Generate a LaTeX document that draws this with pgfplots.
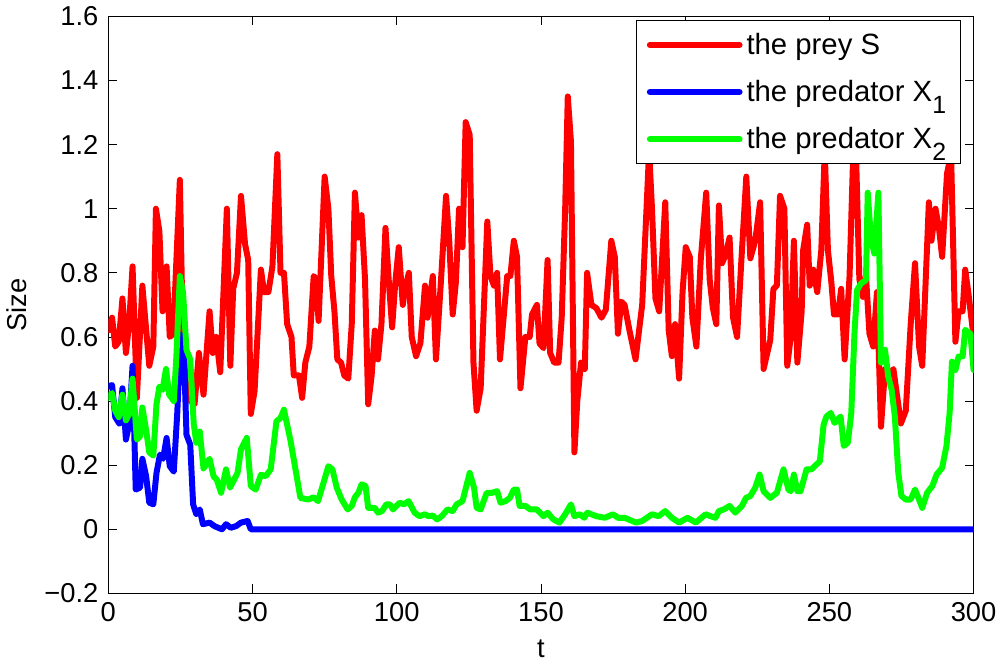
\documentclass[border=0pt]{standalone}
\usepackage{pgfplots}
\pgfplotsset{compat=1.18}
\usepackage{fontspec}
\setmainfont{Liberation Sans}
\pgfplotstableread{
t v
0 0.62
1.3 0.66
2.4 0.57
3.6 0.585
4.9 0.72
6.1 0.55
7.2 0.64
8.4 0.82
9.9 0.41
11.8 0.76
14.2 0.51
15.6 0.57
16.5 1.0
17.7 0.93
18.8 0.68
20.2 0.82
21.3 0.60
22.5 0.61
24.8 1.09
25.9 0.57
27.3 0.41
29.9 0.39
31.4 0.55
33.0 0.42
35.1 0.68
36.2 0.55
37.4 0.60
38.8 0.49
41.1 1.0
42.3 0.51
43.3 0.75
44.6 0.80
46.0 1.04
47.4 0.89
48.5 0.84
49.4 0.36
50.7 0.43
52.9 0.81
54.0 0.74
55.5 0.74
56.9 0.82
58.6 1.17
59.7 0.80
60.9 0.80
62.0 0.64
63.5 0.60
64.3 0.48
66.1 0.48
67.2 0.41
68.3 0.52
69.7 0.57
71.2 0.79
72.0 0.78
72.9 0.65
75.0 1.10
76.3 1.0
77.3 0.79
78.4 0.68
79.4 0.53
80.7 0.52
81.8 0.48
83.2 0.47
84.4 0.64
85.5 1.05
86.7 0.91
87.8 0.98
89.0 0.78
90.1 0.39
91.3 0.48
92.4 0.62
93.5 0.53
94.7 0.64
96.1 0.94
97.2 0.78
98.4 0.63
99.5 0.77
100.7 0.88
102.1 0.70
102.9 0.75
104.2 0.80
105.2 0.60
106.7 0.54
108.2 0.58
109.8 0.76
110.7 0.66
112.5 0.79
113.6 0.53
115.3 0.77
117.1 1.04
118.2 0.90
119.4 0.67
120.5 0.77
121.6 1.0
122.8 0.88
123.9 1.27
125.3 1.23
126.6 0.52
127.7 0.37
129.1 0.44
131.4 0.96
132.5 0.79
133.7 0.76
134.8 0.80
135.8 0.53
138.3 0.79
139.4 0.79
140.6 0.90
141.7 0.85
142.9 0.44
144.6 0.60
146.1 0.60
146.9 0.67
148.6 0.70
149.5 0.58
150.9 0.565
152.3 0.84
153.2 0.55
154.6 0.52
156.1 0.52
157.2 0.66
158.4 1.0
159.3 1.35
160.4 1.21
161.6 0.24
162.6 0.40
163.9 0.52
165.2 0.50
166.0 0.80
167.5 0.70
169.2 0.69
171.0 0.66
172.5 0.685
174.4 0.90
175.6 0.85
176.7 0.61
177.9 0.71
179.0 0.70
180.7 0.62
182.8 0.53
185.1 0.70
187.5 1.18
188.5 1.0
189.7 0.72
191.0 0.68
193.1 1.02
194.3 0.62
195.4 0.54
196.5 0.64
197.9 0.47
199.1 0.74
200.2 0.88
201.6 0.85
202.5 0.66
203.9 0.57
205.4 0.84
207.3 1.05
208.5 0.78
209.6 0.69
210.8 0.64
211.7 1.01
212.8 0.83
214.0 0.855
215.4 0.91
216.6 0.66
218.0 0.60
219.5 0.84
221.2 1.10
222.6 0.845
224.3 0.90
226.0 1.02
227.2 0.50
229.5 0.59
230.6 0.75
231.8 0.76
232.9 1.04
234.4 1.0
235.4 0.51
236.6 0.60
237.7 0.90
238.9 0.52
240.4 0.68
240.9 0.87
242.3 0.95
243.2 0.76
244.4 0.81
245.8 0.74
247.2 0.87
248.4 1.18
249.5 0.87
250.7 0.77
251.6 0.67
253.0 0.67
254.1 0.75
255.3 0.53
257.0 0.79
258.3 1.18
259.3 1.15
260.4 0.78
261.6 0.725
262.7 0.79
263.9 0.61
265.2 0.57
266.5 0.74
267.9 0.32
269.3 0.50
270.8 0.48
272.2 0.50
274.8 0.33
276.5 0.37
278.2 0.64
279.7 0.83
281.1 0.57
282.2 0.51
284.5 1.02
285.4 0.90
286.8 1.0
288.0 0.94
289.1 0.85
290.8 1.11
292.2 1.17
293.7 0.585
294.8 0.68
296.2 0.68
297.1 0.81
298.3 0.73
300 0.60
}\preyS
\pgfplotstableread{
t v
0 0.446
1.3 0.45
2.4 0.35
3.8 0.33
4.9 0.44
6.1 0.28
7.2 0.326
8.4 0.51
9.5 0.124
11.0 0.13
11.8 0.22
13.1 0.166
14.2 0.083
15.6 0.078
16.7 0.176
17.9 0.233
19.0 0.22
20.2 0.285
21.3 0.197
22.7 0.18
23.9 0.363
25.1 0.606
26.3 0.528
27.1 0.295
28.4 0.264
29.4 0.078
30.5 0.047
31.7 0.062
32.8 0.016
35.1 0.021
36.8 0.01
39.4 0.0
40.8 0.016
42.5 0.005
44.3 0.01
46.0 0.021
48.3 0.026
49.4 0.0
300 0.0
}\predA
\pgfplotstableread{
t v
0 0.41
1.3 0.425
2.4 0.37
3.6 0.35
4.9 0.42
6.1 0.34
7.2 0.36
8.4 0.47
9.9 0.28
11.0 0.29
11.8 0.38
13.1 0.31
14.2 0.24
15.6 0.23
16.7 0.39
17.7 0.445
18.8 0.435
20.0 0.50
21.1 0.42
22.7 0.40
23.6 0.54
24.8 0.79
25.9 0.74
27.1 0.56
28.4 0.53
29.6 0.33
30.5 0.27
31.7 0.305
33.0 0.19
35.1 0.22
36.5 0.165
37.6 0.155
39.1 0.114
40.8 0.187
42.2 0.13
44.8 0.176
46.0 0.25
48.0 0.285
49.4 0.135
51.1 0.124
52.9 0.17
54.6 0.166
56.3 0.187
58.3 0.337
59.7 0.347
60.9 0.373
63.2 0.275
64.9 0.187
66.6 0.098
69.3 0.093
71.2 0.10
72.7 0.088
74.6 0.145
76.3 0.197
77.7 0.187
79.2 0.13
80.9 0.093
83.0 0.062
84.4 0.073
85.5 0.10
86.7 0.114
87.8 0.14
89.2 0.135
90.1 0.067
92.4 0.067
93.5 0.052
94.9 0.057
96.4 0.078
97.6 0.078
98.7 0.062
101.0 0.083
102.5 0.078
104.1 0.088
106.2 0.052
107.9 0.041
109.8 0.047
111.0 0.041
112.5 0.043
114.0 0.031
115.6 0.041
117.6 0.062
119.4 0.057
120.8 0.078
122.8 0.088
125.3 0.176
126.8 0.13
127.7 0.067
129.1 0.062
131.2 0.114
133.1 0.114
134.8 0.119
136.0 0.083
137.7 0.088
139.2 0.098
140.6 0.124
141.7 0.124
142.6 0.073
144.6 0.073
146.3 0.062
148.6 0.062
150.9 0.041
152.3 0.052
154.3 0.031
156.4 0.021
158.4 0.047
160.4 0.078
161.6 0.041
163.5 0.047
165.0 0.036
166.1 0.052
169.2 0.041
172.1 0.036
175.0 0.047
176.7 0.036
179.0 0.036
183.0 0.021
185.1 0.026
188.5 0.047
190.8 0.041
193.1 0.057
195.4 0.036
197.9 0.021
200.8 0.036
203.7 0.021
207.1 0.047
208.8 0.041
210.5 0.036
211.7 0.057
213.4 0.062
215.4 0.073
217.4 0.052
219.7 0.073
221.1 0.098
222.6 0.104
224.3 0.13
225.8 0.171
227.2 0.119
229.5 0.098
231.8 0.114
234.1 0.187
235.8 0.124
236.6 0.119
237.7 0.171
238.9 0.119
240.0 0.119
242.1 0.187
243.8 0.187
244.9 0.197
246.7 0.212
248.0 0.326
249.0 0.352
250.5 0.363
251.8 0.332
253.9 0.352
255.0 0.26
256.4 0.27
257.6 0.363
258.7 0.61
259.6 0.746
261.0 0.767
262.7 0.777
263.3 1.05
264.4 0.91
265.6 0.86
267.0 1.05
267.9 0.52
269.3 0.56
270.4 0.477
271.6 0.435
272.7 0.352
273.9 0.176
275.0 0.104
276.5 0.093
278.2 0.093
279.7 0.124
281.1 0.093
282.2 0.067
283.9 0.114
285.7 0.135
287.2 0.171
289.1 0.192
290.6 0.26
291.7 0.363
292.5 0.523
293.7 0.497
294.8 0.539
296.2 0.539
297.1 0.622
298.9 0.61
300 0.497
}\predB
\begin{document}
\begin{tikzpicture}
\begin{axis}[
  scale only axis,
  width=434pt, height=289.5pt,
  xmin=0, xmax=300, ymin=-0.2, ymax=1.6,
  xtick={0,50,100,150,200,250,300},
  xticklabels={0,50,100,150,200,250,300},
  ytick={-0.2,0,0.2,0.4,0.6,0.8,1,1.2,1.4,1.6},
  yticklabels={−0.2,0,0.2,0.4,0.6,0.8,1,1.2,1.4,1.6},
  tick align=inside,
  major tick length=4.5pt,
  tick style={black, line width=0.4pt},
  axis line style={line width=0.5pt},
  ticklabel style={font=\fontsize{13.7}{15}\selectfont},
  yticklabel style={xshift=-1.5pt},
  xticklabel style={yshift=-1pt},
  label style={font=\fontsize{13.7}{15}\selectfont},
  xlabel={t}, ylabel={Size},
  xlabel style={yshift=-2pt},
  ylabel style={yshift=2pt},
  legend style={at={(0.985,0.993)}, anchor=north east, draw=black, line width=0.5pt,
    font=\fontsize{14.7}{16}\selectfont, row sep=7.5pt, inner xsep=5pt, inner ysep=4pt},
  legend cell align=left,
  legend image code/.code={\draw[#1, line width=3pt] (0pt,0pt) -- (45pt,0pt);},
  every axis plot/.append style={line width=3pt, line join=round, line cap=round},
]
\addplot[red] table[x=t,y=v] {\preyS};
\addlegendentry{the prey S}
\addplot[blue] table[x=t,y=v] {\predA};
\addlegendentry{the predator X\raisebox{-0.8ex}{\fontsize{12.5}{14}\selectfont 1}}
\addplot[green] table[x=t,y=v] {\predB};
\addlegendentry{the predator X\raisebox{-0.8ex}{\fontsize{12.5}{14}\selectfont 2}}
\end{axis}
\end{tikzpicture}
\end{document}
